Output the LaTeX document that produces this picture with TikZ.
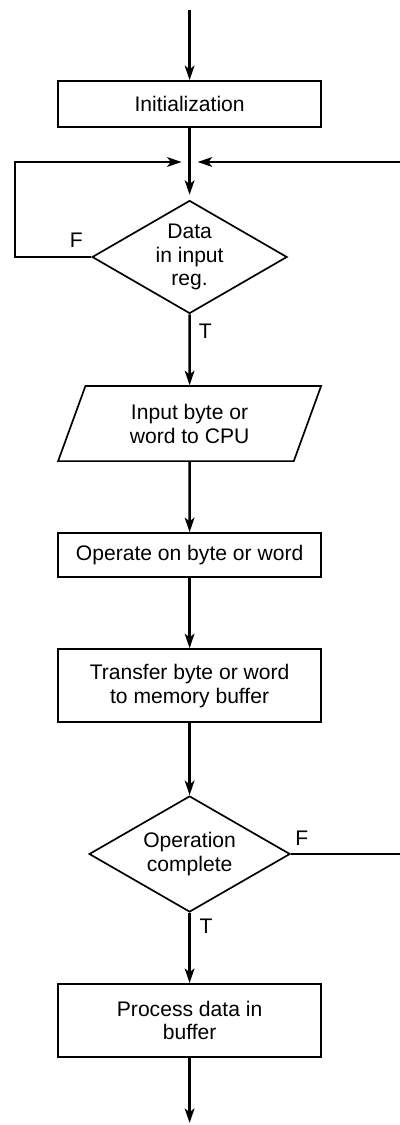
\documentclass[tikz,border=0pt]{standalone}
\usepackage{fontspec}
\setmainfont{Liberation Sans}
\usetikzlibrary{arrows.meta, positioning, shapes}

\begin{document}
\begin{tikzpicture}[
    box style/.style={rectangle, draw=black, line width=1.2pt, minimum width=6.575cm, align=center, inner sep=2pt},
    io style/.style={trapezium, trapezium left angle=70, trapezium right angle=110, draw=black, line width=1.2pt, minimum width=6.575cm, minimum height=1.825cm, align=center, inner sep=2pt},
    decision style/.style={diamond, aspect=1.73, draw=black, line width=1.2pt, inner sep=0pt, align=center},
    flag style/.style={inner sep=0pt},
    line style/.style={line width=1.9pt, -{Stealth[length=3.6mm, width=2.4mm, inset=0.9mm]}},
    font=\fontsize{15}{17}\selectfont
]
\useasboundingbox (0,0) rectangle (10,-28.125);

\coordinate (start) at (4.74,-0.25);
\node[box style, minimum height=1.15cm] (init) at (4.74,-2.6) {Initialization};
\coordinate (join) at (4.74,-4.05);
\node[decision style, minimum width=4.875cm, minimum height=2.825cm] (dec1) at (4.74,-6.425) {Data\\in input\\reg.};
\node[io style] (input) at (4.74,-10.59) {Input byte or\\word to CPU};
\node[box style, minimum height=1.1cm] (oper) at (4.74,-13.875) {Operate on byte or word};
\node[box style, minimum height=1.825cm] (trans) at (4.74,-17.14) {Transfer byte or word\\to memory buffer};
\node[decision style, minimum width=5.025cm, minimum height=2.9cm] (dec2) at (4.74,-21.35) {Operation\\complete};
\node[box style, minimum height=1.825cm] (proc) at (4.74,-25.51) {Process data in\\buffer};
\coordinate (finish) at (4.74,-28.075);

% loop corners
\coordinate (loopL) at (0.375,-6.425);
\coordinate (loopR) at (10.4,-21.35);

% labels
\node[flag style] (f1) at ([shift={(-0.375,0.425)}]dec1.west) {F};
\node[flag style] (t1) at ([shift={(0.39,-0.42)}]dec1.south) {T};
\node[flag style] (f2) at ([shift={(0.27,0.4)}]dec2.east) {F};
\node[flag style] (t2) at ([shift={(0.41,-0.33)}]dec2.south) {T};

\draw[line style] (start) -- (init);
\draw[line width=1.9pt] (init) -- (join);
\draw[line style, shorten >=0.12cm] (join) -- (dec1);
\draw[line style, shorten >=0.2cm] (dec1.west) -- (loopL) |- (join);
\draw[line style] (dec1) -- (input);
\draw[line style] (input) -- (oper);
\draw[line style] (oper) -- (trans);
\draw[line style] (trans) -- (dec2);
\draw[line style, shorten >=0.2cm] (dec2.east) -- (loopR) |- (join);
\draw[line style] (dec2) -- (proc);
\draw[line style] (proc) -- (finish);
\end{tikzpicture}
\end{document}
